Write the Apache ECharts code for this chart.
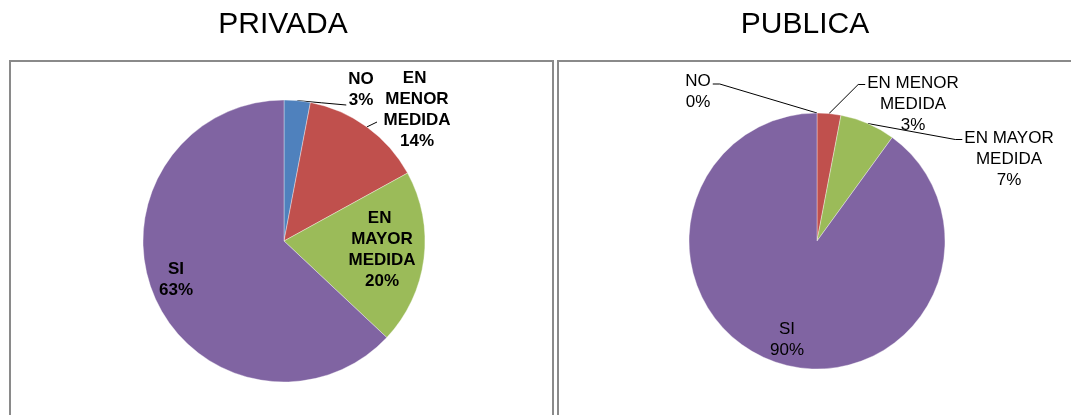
<!DOCTYPE html>
<html>
<head>
<meta charset="utf-8">
<title>PRIVADA / PUBLICA</title>
<script src="https://cdn.jsdelivr.net/npm/echarts@6/dist/echarts.min.js"></script>
<style>
  html, body { margin: 0; padding: 0; background: #fff; }
  #chart { width: 1071px; height: 415px; }
</style>
</head>
<body>
<div id="chart"></div>
<script>
// Answer categories, shared by both pies (clockwise from 12 o'clock)
const categories = ['NO', 'EN MENOR\nMEDIDA', 'EN MAYOR\nMEDIDA', 'SI'];
// Share of answers, in percent
const privadaValues = [3, 14, 20, 63];
const publicaValues = [0, 3, 7, 90];
const panelTitles = ['PRIVADA', 'PUBLICA'];

const sliceColors = ['#4F81BD', '#C0504D', '#9BBB59', '#8064A2'];
const FONT = '"Liberation Sans", Arial, sans-serif';

// Where each label block sits (centre), how wide it may wrap,
// and where its leader line attaches
const labelSpots = [
  [
    { x: 361, y: 90, hook: { side: 'left', dy: 36, straight: true } },
    { x: 417, y: 110, wrap: 76, hook: { side: 'left', dy: 54, straight: true } },
    { x: 382, y: 250, wrap: 76 },
    { x: 176, y: 280 }
  ],
  [
    { x: 698, y: 92, hook: { side: 'right', dy: 13 } },
    { x: 913, y: 104, hook: { side: 'left', dy: 12 } },
    { x: 1009, y: 159, hook: { side: 'left', dy: 12 } },
    { x: 787, y: 340 }
  ]
];

function buildData(seriesIndex, values) {
  return categories.map(function (name, i) {
    const spot = labelSpots[seriesIndex][i];
    const outside = !!spot.hook;
    const label = { position: outside ? 'outside' : 'inside' };
    if (spot.wrap) {
      label.width = spot.wrap;
      label.overflow = 'break';
    }
    return {
      name: name,
      value: values[i],
      itemStyle: { color: sliceColors[i] },
      label: label,
      labelLine: { show: outside }
    };
  });
}

function makeLayout(params) {
  const spot = labelSpots[params.seriesIndex][params.dataIndex];
  const w = params.labelRect.width;
  const h = params.labelRect.height;
  const left = spot.x - w / 2;
  const top = spot.y - h / 2;
  const out = { x: spot.x, y: spot.y, align: 'center', verticalAlign: 'middle' };
  if (spot.hook && params.labelLinePoints) {
    const hk = spot.hook;
    const ex = hk.side === 'left' ? left - 2 : left + w + 2;
    const ey = top + hk.dy;
    const start = params.labelLinePoints[0];
    if (hk.straight) {
      out.labelLinePoints = [start, [(start[0] + ex) / 2, (start[1] + ey) / 2], [ex, ey]];
    } else {
      const bx = hk.side === 'left' ? ex - 7 : ex + 7;
      out.labelLinePoints = [start, [bx, ey], [ex, ey]];
    }
  }
  return out;
}

function pieSeries(index, values, center, radius, weight) {
  return {
    type: 'pie',
    center: center,
    radius: radius,
    startAngle: 90,
    clockwise: true,
    avoidLabelOverlap: false,
    silent: true,
    animation: false,
    itemStyle: { borderColor: 'rgba(255,255,255,0.6)', borderWidth: 0.6 },
    label: {
      formatter: '{b}\n{d}%',
      fontFamily: FONT,
      fontSize: 17,
      fontWeight: weight,
      lineHeight: 21,
      color: '#000',
      align: 'center'
    },
    labelLine: {
      length: 10,
      length2: 8,
      lineStyle: { color: '#000', width: 1 }
    },
    labelLayout: makeLayout,
    data: buildData(index, values)
  };
}

const titleStyle = { fontFamily: FONT, fontSize: 30, fontWeight: 'normal', color: '#000' };

const chart = echarts.init(document.getElementById('chart'), null, { renderer: 'canvas' });
chart.setOption({
  animation: false,
  title: [
    { text: panelTitles[0], left: 278, top: 5, textAlign: 'center', textStyle: titleStyle },
    { text: panelTitles[1], left: 800, top: 5, textAlign: 'center', textStyle: titleStyle }
  ],
  graphic: [
    {
      type: 'rect', z: -1,
      shape: { x: 10, y: 61, width: 543, height: 380 },
      style: { fill: '#fff', stroke: '#8a8a8a', lineWidth: 2 }
    },
    {
      type: 'rect', z: -1,
      shape: { x: 558, y: 61, width: 530, height: 380 },
      style: { fill: '#fff', stroke: '#8a8a8a', lineWidth: 2 }
    }
  ],
  series: [
    pieSeries(0, privadaValues, [284, 241], 141, 'bold'),
    pieSeries(1, publicaValues, [817, 241], 128, 'normal')
  ]
});
</script>
</body>
</html>
